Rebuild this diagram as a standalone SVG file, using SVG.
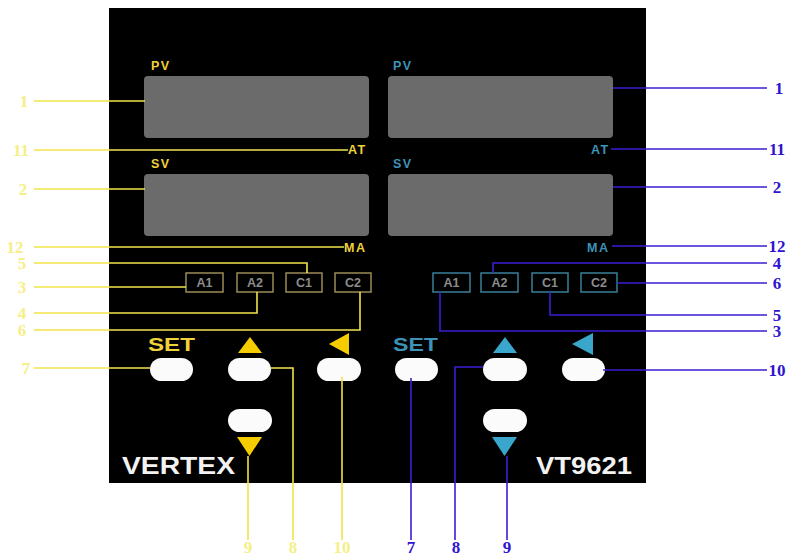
<svg xmlns="http://www.w3.org/2000/svg" width="792" height="557" viewBox="0 0 792 557">
<style>
.disp{fill:#6b6b6b}
.yl{fill:#f0d23c;font-family:"Liberation Sans",Arial,sans-serif;font-weight:bold}
.bl{fill:#3d92b8;font-family:"Liberation Sans",Arial,sans-serif;font-weight:bold}
.sm{font-size:12.5px;letter-spacing:1.5px}
.btn{fill:#fbfbfb}
.lampY{fill:#000;stroke:#9a8c55;stroke-width:1.5}
.lampB{fill:#000;stroke:#3a7f98;stroke-width:1.5}
.lt{fill:#8c8c8c;font-family:"Liberation Sans",Arial,sans-serif;font-weight:bold;font-size:12.5px;text-anchor:middle}
.cy{fill:none;stroke:#f2e44c;stroke-width:1.6}
.cb{fill:none;stroke:#3a1ed4;stroke-width:1.6}
.ny{fill:#f5ef86;font-family:"Liberation Serif","Times New Roman",serif;font-weight:bold;font-size:17px;text-anchor:middle}
.nb{fill:#2f14d0;font-family:"Liberation Serif","Times New Roman",serif;font-weight:bold;font-size:17px;text-anchor:middle}
.brand{fill:#f2f2f2;font-family:"Liberation Sans",Arial,sans-serif;font-weight:bold;font-size:24px}
</style>
<rect width="792" height="557" fill="#ffffff"/>
<g id="panel">
<rect x="109" y="8" width="537" height="475" fill="#000"/>
</g>
<g id="left-pv">
<text class="yl sm" x="151" y="70">PV</text>
<rect class="disp" x="144" y="76" width="225" height="62" rx="4"/>
</g>
<g id="left-sv">
<text class="yl sm" x="151" y="168">SV</text>
<rect class="disp" x="144" y="174" width="225" height="62" rx="4"/>
</g>
<g id="left-at"><text class="yl sm" x="348" y="154">AT</text></g>
<g id="left-ma"><text class="yl sm" x="344" y="252">MA</text></g>
<g id="right-pv">
<text class="bl sm" x="393" y="70">PV</text>
<rect class="disp" x="388" y="76" width="225" height="62" rx="4"/>
</g>
<g id="right-sv">
<text class="bl sm" x="393" y="168">SV</text>
<rect class="disp" x="388" y="174" width="225" height="62" rx="4"/>
</g>
<g id="right-at"><text class="bl sm" x="591" y="154">AT</text></g>
<g id="right-ma"><text class="bl sm" x="587" y="252">MA</text></g>
<g id="left-lamps">
<rect class="lampY" x="186" y="273" width="37" height="19"/><text class="lt" x="204.5" y="287">A1</text>
<rect class="lampY" x="237" y="273" width="36" height="19"/><text class="lt" x="255" y="287">A2</text>
<rect class="lampY" x="286" y="273" width="36" height="19"/><text class="lt" x="304" y="287">C1</text>
<rect class="lampY" x="335" y="273" width="36" height="19"/><text class="lt" x="353" y="287">C2</text>
</g>
<g id="right-lamps">
<rect class="lampB" x="433" y="273" width="37" height="19"/><text class="lt" x="451.5" y="287">A1</text>
<rect class="lampB" x="481" y="273" width="37" height="19"/><text class="lt" x="499.5" y="287">A2</text>
<rect class="lampB" x="532" y="273" width="36" height="19"/><text class="lt" x="550" y="287">C1</text>
<rect class="lampB" x="581" y="273" width="36" height="19"/><text class="lt" x="599" y="287">C2</text>
</g>
<g id="left-keys">
<text class="yl" x="148" y="351" font-size="19" textLength="47" lengthAdjust="spacingAndGlyphs">SET</text>
<rect class="btn" x="150" y="358" width="43" height="23" rx="11.5"/>
<polygon points="238,353 262,353 250,337" fill="#f5cc00"/>
<rect class="btn" x="228" y="358" width="43" height="23" rx="11.5"/>
<polygon points="329,344 349,333 349,355" fill="#f5cc00"/>
<rect class="btn" x="317" y="358" width="44" height="23" rx="11.5"/>
<rect class="btn" x="228" y="409" width="44" height="23" rx="11.5"/>
<polygon points="237,437 262,437 249.5,456" fill="#f5cc00"/>
<text class="brand" x="122" y="474" textLength="113" lengthAdjust="spacingAndGlyphs">VERTEX</text>
</g>
<g id="right-keys">
<text class="bl" x="393" y="351" font-size="19" textLength="45" lengthAdjust="spacingAndGlyphs">SET</text>
<rect class="btn" x="395" y="358" width="43" height="23" rx="11.5"/>
<polygon points="493,353 517,353 505,337" fill="#3aa6cc"/>
<rect class="btn" x="483" y="358" width="44" height="23" rx="11.5"/>
<polygon points="572,344 593,333 593,355" fill="#3aa6cc"/>
<rect class="btn" x="562" y="358" width="43" height="23" rx="11.5"/>
<rect class="btn" x="483" y="409" width="44" height="23" rx="11.5"/>
<polygon points="492,437 517,437 504.5,456" fill="#3aa6cc"/>
<text class="brand" x="536" y="474" textLength="96" lengthAdjust="spacingAndGlyphs">VT9621</text>
</g>
<g id="connectors">
<polyline class="cy" points="34,101 145,101"/>
<polyline class="cy" points="34,150 348,150"/>
<polyline class="cy" points="34,189 145,189"/>
<polyline class="cy" points="34,247 344,247"/>
<polyline class="cy" points="34,263 307,263 307,273"/>
<polyline class="cy" points="34,287 186,287"/>
<polyline class="cy" points="34,313 257,313 257,292"/>
<polyline class="cy" points="34,330 360,330 360,292"/>
<polyline class="cy" points="34,368 150,368"/>
<polyline class="cy" points="271,368 293,368 293,540"/>
<polyline class="cy" points="342,377 342,540"/>
<polyline class="cy" points="248,456 248,540"/>
<polyline class="cb" points="613,88 767,88"/>
<polyline class="cb" points="611,149 767,149"/>
<polyline class="cb" points="613,187 767,187"/>
<polyline class="cb" points="612,246 767,246"/>
<polyline class="cb" points="493,273 493,263 767,263"/>
<polyline class="cb" points="617,283 767,283"/>
<polyline class="cb" points="550,292 550,315 767,315"/>
<polyline class="cb" points="440,292 440,331 767,331"/>
<polyline class="cb" points="603,370 767,370"/>
<polyline class="cb" points="411,378 411,540"/>
<polyline class="cb" points="483,367 455,367 455,540"/>
<polyline class="cb" points="507,456 507,540"/>
</g>
<g id="labels-left">
<text class="ny" x="24" y="107">1</text>
<text class="ny" x="21" y="156">11</text>
<text class="ny" x="23" y="195">2</text>
<text class="ny" x="15" y="253">12</text>
<text class="ny" x="22" y="269">5</text>
<text class="ny" x="22" y="293">3</text>
<text class="ny" x="22" y="319">4</text>
<text class="ny" x="22" y="336">6</text>
<text class="ny" x="26" y="374">7</text>
<text class="ny" x="248" y="553">9</text>
<text class="ny" x="293" y="553">8</text>
<text class="ny" x="342" y="553">10</text>
</g>
<g id="labels-right">
<text class="nb" x="779" y="94">1</text>
<text class="nb" x="777" y="155">11</text>
<text class="nb" x="777" y="193">2</text>
<text class="nb" x="777" y="252">12</text>
<text class="nb" x="777" y="269">4</text>
<text class="nb" x="777" y="289">6</text>
<text class="nb" x="777" y="321">5</text>
<text class="nb" x="777" y="337">3</text>
<text class="nb" x="777" y="376">10</text>
<text class="nb" x="411" y="553">7</text>
<text class="nb" x="456" y="553">8</text>
<text class="nb" x="507" y="553">9</text>
</g>
</svg>
